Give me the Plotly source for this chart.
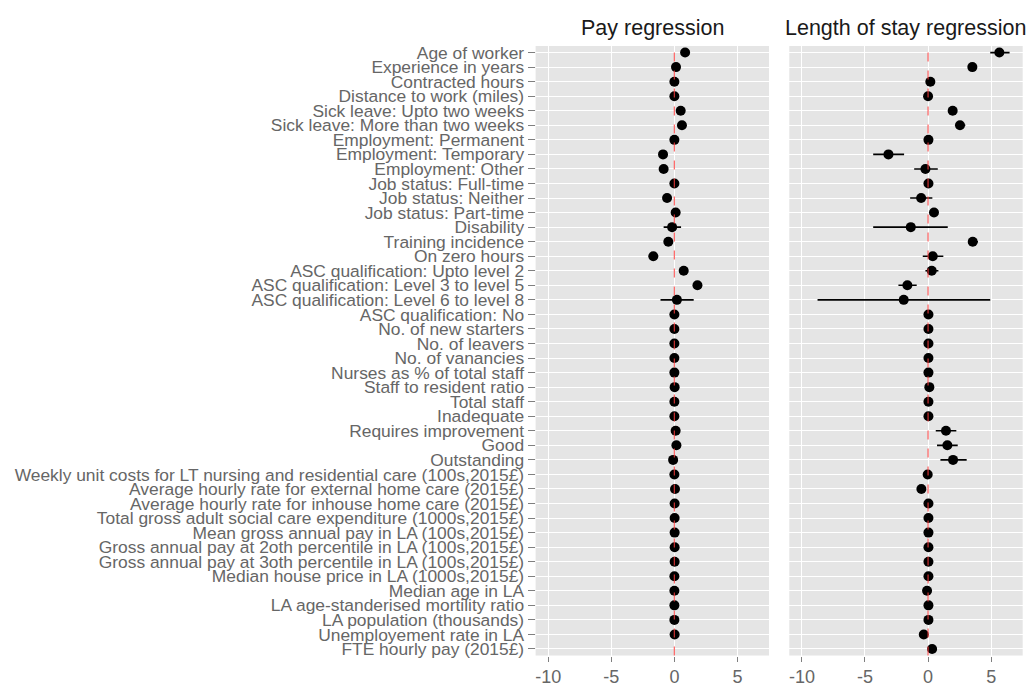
import plotly.graph_objects as go

labels = [
    "Age of worker", "Experience in years", "Contracted hours", "Distance to work (miles)",
    "Sick leave: Upto two weeks", "Sick leave: More than two weeks",
    "Employment: Permanent", "Employment: Temporary", "Employment: Other",
    "Job status: Full-time", "Job status: Neither", "Job status: Part-time",
    "Disability", "Training incidence", "On zero hours",
    "ASC qualification: Upto level 2", "ASC qualification: Level 3 to level 5",
    "ASC qualification: Level 6 to level 8", "ASC qualification: No",
    "No. of new starters", "No. of leavers", "No. of vanancies",
    "Nurses as % of total staff", "Staff to resident ratio", "Total staff",
    "Inadequate", "Requires improvement", "Good", "Outstanding",
    "Weekly unit costs for LT nursing and residential care (100s,2015£)",
    "Average hourly rate for external home care (2015£)",
    "Average hourly rate for inhouse home care (2015£)",
    "Total gross adult social care expenditure (1000s,2015£)",
    "Mean gross annual pay in LA (100s,2015£)",
    "Gross annual pay at 2oth percentile in LA (100s,2015£)",
    "Gross annual pay at 3oth percentile in LA (100s,2015£)",
    "Median house price in LA (1000s,2015£)",
    "Median age in LA", "LA age-standerised mortility ratio",
    "LA population (thousands)", "Unemployement rate in LA",
    "FTE hourly pay (2015£)",
]

pay_est = [0.85, 0.13, 0.0, 0.0, 0.5, 0.6, 0.0, -0.9, -0.85, 0.0, -0.58, 0.1,
           -0.18, -0.48, -1.67, 0.74, 1.83, 0.2, 0.0, 0.0, 0.0, 0.0, 0.0, 0.02,
           0.0, 0.0, 0.1, 0.16, -0.1, 0.0, 0.05, 0.02, 0.02, 0.02, 0.02, 0.02,
           0.0, 0.0, 0.0, 0.0, 0.02, None]
pay_low = [0.75, 0.08, 0.0, 0.0, 0.4, 0.5, -0.05, -1.0, -0.95, -0.05, -0.68, 0.0,
           -0.85, -0.58, -1.77, 0.64, 1.73, -1.1, 0.0, 0.0, 0.0, 0.0, 0.0, 0.0,
           0.0, 0.0, 0.0, 0.06, -0.2, 0.0, 0.0, 0.0, 0.0, 0.0, 0.0, 0.0,
           0.0, 0.0, 0.0, 0.0, 0.0, None]
pay_high = [0.95, 0.18, 0.0, 0.0, 0.6, 0.7, 0.05, -0.8, -0.75, 0.05, -0.48, 0.2,
            0.53, -0.38, -1.57, 0.84, 1.93, 1.53, 0.0, 0.0, 0.0, 0.0, 0.0, 0.04,
            0.0, 0.0, 0.2, 0.26, 0.0, 0.0, 0.1, 0.04, 0.04, 0.04, 0.04, 0.04,
            0.0, 0.0, 0.0, 0.0, 0.04, None]

los_est = [5.65, 3.51, 0.18, 0.0, 1.95, 2.53, 0.03, -3.14, -0.21, 0.03, -0.55, 0.47,
           -1.37, 3.54, 0.37, 0.29, -1.64, -1.93, 0.03, 0.03, 0.03, 0.03, 0.03, 0.1,
           0.03, 0.03, 1.42, 1.53, 1.98, -0.03, -0.53, 0.03, 0.03, 0.03, 0.03, 0.03,
           0.03, -0.08, 0.03, 0.03, -0.34, 0.32]
los_low = [4.93, 3.3, 0.05, -0.1, 1.75, 2.19, -0.1, -4.35, -1.1, -0.1, -1.42, 0.3,
           -4.35, 3.17, -0.42, -0.21, -2.35, -8.76, 0.0, 0.0, 0.0, 0.0, 0.0, 0.0,
           0.0, 0.0, 0.61, 0.71, 0.98, -0.1, -0.7, 0.0, 0.0, 0.0, 0.0, 0.0,
           0.0, -0.15, 0.0, 0.0, -0.5, 0.15]
los_high = [6.46, 3.72, 0.3, 0.1, 2.15, 2.95, 0.15, -1.9, 0.77, 0.15, 0.34, 0.64,
            1.56, 3.96, 1.21, 0.82, -0.9, 4.93, 0.06, 0.06, 0.06, 0.06, 0.06, 0.2,
            0.06, 0.06, 2.24, 2.35, 3.06, 0.05, -0.36, 0.06, 0.06, 0.06, 0.06, 0.06,
            0.06, 0.0, 0.06, 0.06, -0.18, 0.5]

x_ticks = [-10, -5, 0, 5]
titles = ["Pay regression", "Length of stay regression"]

FONT = "Liberation Sans, Arial, sans-serif"
TXT = "#666666"


def err(est, low, high):
    plus = [None if e is None else h - e for e, h in zip(est, high)]
    minus = [None if e is None else e - l for e, l in zip(est, low)]
    return plus, minus


fig = go.Figure()
for i, (est, low, high) in enumerate([(pay_est, pay_low, pay_high),
                                       (los_est, los_low, los_high)]):
    plus, minus = err(est, low, high)
    xa = "x" if i == 0 else "x2"
    ya = "y" if i == 0 else "y2"
    fig.add_trace(go.Scatter(
        x=est, y=labels, mode="markers", xaxis=xa, yaxis=ya,
        marker=dict(color="black", size=10),
        error_x=dict(type="data", symmetric=False, array=plus, arrayminus=minus,
                     color="black", thickness=1.6, width=0),
        showlegend=False,
    ))

ydom = [0.0446, 0.937]
xdoms = [[0.520, 0.7466], [0.7663, 0.9929]]

common_x = dict(range=[-11, 7.5], tickvals=x_ticks, ticktext=[str(t) for t in x_ticks],
                showgrid=True, gridcolor="white", gridwidth=1.2, zeroline=False,
                ticks="outside", ticklen=5, tickcolor="#7f7f7f", tickwidth=1,
                tickfont=dict(family=FONT, size=18, color=TXT), showline=False)
common_y = dict(type="category", categoryorder="array", categoryarray=labels,
                range=[41.45, -0.45], showgrid=True, gridcolor="white", gridwidth=1.2,
                zeroline=False, showline=False, tickmode="array", tickvals=labels)

fig.update_layout(
    width=1030, height=689,
    margin=dict(l=0, r=0, t=0, b=0),
    paper_bgcolor="white", plot_bgcolor="#E5E5E5",
    xaxis=dict(domain=xdoms[0], anchor="y", **common_x),
    xaxis2=dict(domain=xdoms[1], anchor="y2", **common_x),
    yaxis=dict(domain=ydom, anchor="x", ticks="outside", ticklen=7, tickcolor="#7f7f7f",
               tickfont=dict(family=FONT, size=17.4, color=TXT), **common_y),
    yaxis2=dict(domain=ydom, anchor="x2", matches="y", showticklabels=False,
                ticks="", **common_y),
    font=dict(family=FONT),
)

for i, xa in enumerate(["x", "x2"]):
    fig.add_shape(type="line", xref=xa, yref="paper", x0=0, x1=0,
                  y0=ydom[0], y1=ydom[1],
                  line=dict(color="rgba(255,60,60,0.75)", width=1.3, dash="dash"),
                  layer="above")
    fig.add_annotation(text=titles[i], xref="paper", yref="paper",
                       x=sum(xdoms[i]) / 2, y=1 - 25 / 689, xanchor="center",
                       yanchor="middle", showarrow=False,
                       font=dict(family=FONT, size=21.5, color="#1a1a1a"))

fig.write_html("out.html")
